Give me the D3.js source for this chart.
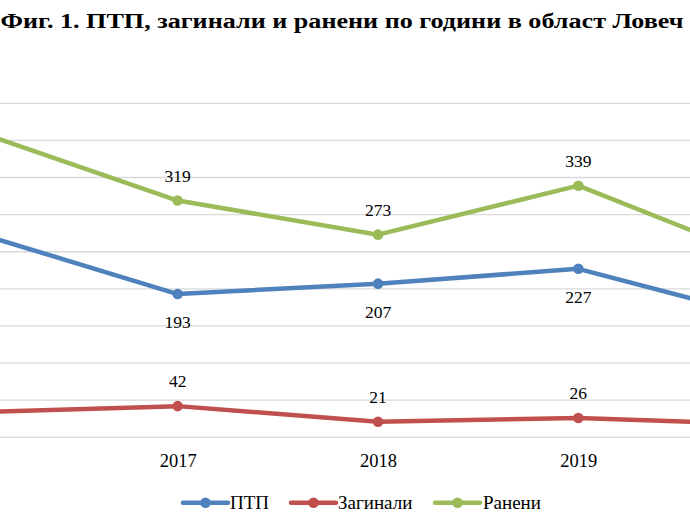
<!DOCTYPE html>
<html>
<head>
<meta charset="utf-8">
<script src="https://cdn.jsdelivr.net/npm/d3@7"></script>
<style>
  html, body { margin: 0; padding: 0; background: #fff; overflow: hidden; }
  svg { display: block; }
</style>
</head>
<body>
<script>
const title = "Фиг. 1. ПТП, загинали и ранени по години в област Ловеч";
const years = ["2016", "2017", "2018", "2019", "2020"];
const ptp = [275, 193, 207, 227, 156];
const killed = [34, 42, 21, 26, 17];
const injured = [412, 319, 273, 339, 232];
const seriesNames = ["ПТП", "Загинали", "Ранени"];
const yTicks = [0, 50, 100, 150, 200, 250, 300, 350, 400, 450];

const W = 690, H = 529;
const FONT = '"Liberation Serif", "Times New Roman", serif';
const colors = ["#4F81BD", "#C0504D", "#9BBB59"];
const labelPos = ["below", "above", "above"];
const series = [ptp, killed, injured];

const svg = d3.select("body").append("svg").attr("width", W).attr("height", H);

const x = d3.scalePoint().domain(years).range([-22.7, 778.7]);
const y = d3.scaleLinear().domain([0, 450]).range([437.3, 103.3]);
const visible = yr => x(yr) > 20 && x(yr) < W - 20;

// title
svg.append("text")
  .attr("x", 0.5).attr("y", 28)
  .style("font-family", FONT)
  .attr("font-weight", "bold").attr("font-size", 20)
  .attr("textLength", 683).attr("lengthAdjust", "spacingAndGlyphs")
  .text(title);

// gridlines
svg.append("g").selectAll("line").data(yTicks).join("line")
  .attr("x1", -60).attr("x2", W + 60)
  .attr("y1", d => y(d)).attr("y2", d => y(d))
  .attr("stroke", "#D9D9D9").attr("stroke-width", 1.3);

// x axis labels (only the categories inside the visible window)
const xAxis = d3.axisBottom(x).tickValues(years.filter(visible)).tickSize(0).tickPadding(0);
const gx = svg.append("g").attr("transform", `translate(0,${y(0)})`).call(xAxis);
gx.select(".domain").remove();
gx.selectAll("text")
  .style("font-family", FONT)
  .attr("font-size", 18.5).attr("fill", "#000")
  .attr("dy", null).attr("y", 29.5);

const line = d3.line().x((d, i) => x(years[i])).y(d => y(d));

series.forEach((vals, s) => {
  const g = svg.append("g");
  g.append("path").datum(vals)
    .attr("d", line).attr("fill", "none")
    .attr("stroke", colors[s]).attr("stroke-width", 4.5)
    .attr("stroke-linejoin", "round");
  g.selectAll("circle").data(vals).join("circle")
    .attr("cx", (d, i) => x(years[i])).attr("cy", d => y(d))
    .attr("r", 5.3).attr("fill", colors[s]);
  const pts = vals.map((v, i) => ({ v, yr: years[i] })).filter(p => visible(p.yr));
  g.selectAll("text").data(pts).join("text")
    .attr("x", p => x(p.yr))
    .attr("y", p => y(p.v) + (labelPos[s] === "above" ? -18.8 : 34.2))
    .attr("text-anchor", "middle")
    .style("font-family", FONT)
    .attr("font-size", 17.5).attr("fill", "#000")
    .text(p => p.v);
});

// legend
const legendItems = [
  { x0: 183, tx: 230 },
  { x0: 291, tx: 338 },
  { x0: 435, tx: 483 }
];
const ly = 502.7;
seriesNames.forEach((name, s) => {
  const it = legendItems[s];
  const g = svg.append("g");
  g.append("line").attr("x1", it.x0).attr("x2", it.x0 + 45)
    .attr("y1", ly).attr("y2", ly)
    .attr("stroke", colors[s]).attr("stroke-width", 4.5).attr("stroke-linecap", "round");
  g.append("circle").attr("cx", it.x0 + 22.5).attr("cy", ly).attr("r", 5.3).attr("fill", colors[s]);
  g.append("text").attr("x", it.tx).attr("y", ly + 6.5)
    .style("font-family", FONT)
    .attr("font-size", 19).attr("fill", "#000")
    .text(name);
});
</script>
</body>
</html>
